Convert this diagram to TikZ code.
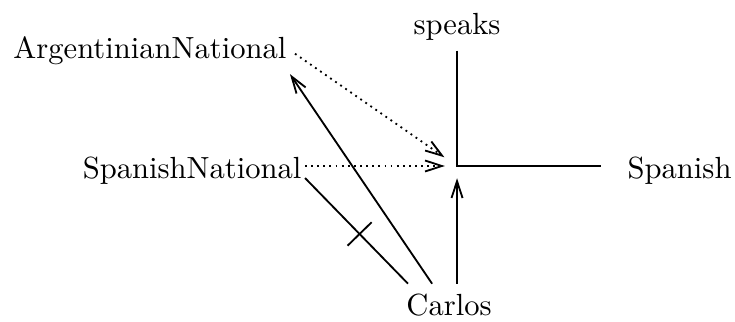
\documentclass[tikz,border=0pt]{standalone}
\usetikzlibrary{arrows.meta, calc, decorations.markings}
\tikzset{
  word/.style={inner xsep=1pt, inner ysep=3pt},
  link/.style={semithick, -{Straight Barb[length=5.5pt,width=3.6pt]}, shorten >=4pt},
  dotlink/.style={link, dash pattern=on .6pt off 1.4pt},
  crossed/.style={decoration={markings,
      mark=at position .53 with {\draw[semithick] (0,-5.5pt) -- (0,5.5pt);}},
    postaction=decorate}
}
\begin{document}
\begin{tikzpicture}
  \useasboundingbox (0,0) rectangle (8.448,3.701);

  % Words
  \node[word, anchor=base east] (argnat) at (3.333,3.034) {ArgentinianNational};
  \node[word, anchor=base east] (spnat) at (3.506,1.655) {SpanishNational};
  \node[word, anchor=base] (speaks) at (5.253,3.299) {speaks};
  \node[word, anchor=base west] (spanish) at (7.172,1.644) {Spanish};
  \node[word, anchor=base] (carlos) at (5.161,0.080) {Carlos};
  \coordinate (corner) at (5.253,1.793);

  % speaks relation
  \draw[semithick] (speaks) -- (corner) -- ([xshift=-7.5pt]corner -| spanish.west);

  % Carlos links
  \draw[link] (carlos.north -| corner) -- (corner);
  \draw[link, shorten >=0pt] (carlos.129) -- (argnat.south east);
  \draw[semithick, crossed] (spnat.base east) -- (carlos.153);

  % dotted links
  \draw[dotlink, shorten >=5pt, shorten <=2pt] (argnat.east) -- (corner);
  \draw[dotlink] (spnat.east |- corner) -- (corner);
\end{tikzpicture}
\end{document}
